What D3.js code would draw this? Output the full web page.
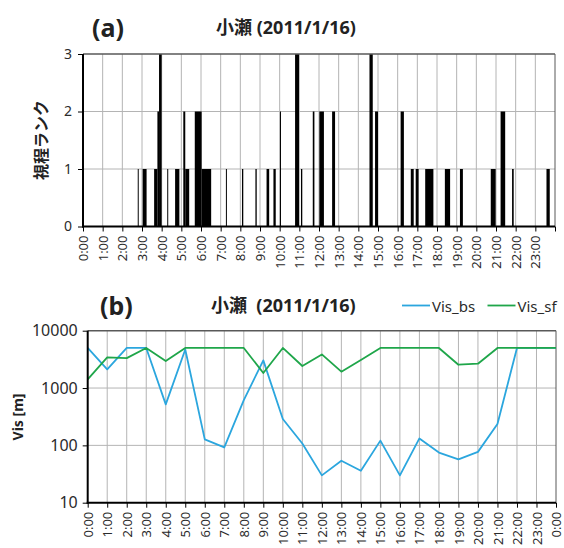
<!DOCTYPE html>
<html>
<head>
<meta charset="utf-8">
<script src="https://cdn.jsdelivr.net/npm/d3@7"></script>
<style>
    body { margin: 0; background: #fff; }
    text { font-family: "Noto Sans", "Noto Sans CJK JP", sans-serif; }
</style>
</head>
<body>
<svg id="chart" width="564" height="548"></svg>
<script>
'use strict';

// (a) visibility rank episodes: start, end, rank
var rankStart = ['2:47', '3:02', '3:37', '3:47', '3:52', '4:17', '4:41', '5:06', '5:12', '5:41',
                 '6:02', '7:16', '8:05', '8:46', '9:20', '9:41', '10:01', '10:47', '11:05', '11:41',
                 '12:01', '12:40', '14:34', '14:51', '16:09', '16:40', '16:55', '17:24', '18:24', '19:10',
                 '20:44', '21:14', '21:49', '23:34'];
var rankEnd   = ['2:50', '3:14', '3:47', '3:52', '4:00', '4:20', '4:54', '5:12', '5:24', '6:02',
                 '6:31', '7:19', '8:09', '8:50', '9:28', '9:48', '10:04', '10:59', '11:09', '11:46',
                 '12:15', '12:49', '14:44', '15:00', '16:19', '16:49', '17:04', '17:49', '18:40', '19:19',
                 '20:59', '21:28', '21:54', '23:44'];
var rankValue = [1, 1, 1, 2, 3, 1, 1, 2, 1, 2,
                 1, 1, 1, 1, 1, 1, 2, 3, 1, 2,
                 2, 2, 3, 2, 2, 1, 1, 1, 1, 1,
                 1, 2, 1, 1];
var rankTicks = [0, 1, 2, 3];

// (b) hourly visibility [m]
var visBs = [5000, 2120, 5000, 5000, 519, 4700, 127, 92, 617, 3040, 288, 108, 30,
             54, 36, 121, 30, 132, 75, 57, 77, 236, 5000, 5000, 5000];
var visSf = [1416, 3430, 3330, 5000, 2960, 5000, 5000, 5000, 5000, 1828, 5000, 2420, 3860,
             1927, 3077, 5000, 5000, 5000, 5000, 2550, 2655, 5000, 5000, 5000, 5000];
var visTicks = [10, 100, 1000, 10000];

var hourLabels = ['0:00', '1:00', '2:00', '3:00', '4:00', '5:00', '6:00', '7:00', '8:00', '9:00',
                  '10:00', '11:00', '12:00', '13:00', '14:00', '15:00', '16:00', '17:00', '18:00',
                  '19:00', '20:00', '21:00', '22:00', '23:00'];
var hourLabelsB = hourLabels.concat(['0:00']);

var svg = d3.select('#chart');
var gridColor = '#b4b4b4';
var borderColor = '#595959';

function toMinutes(s) {
    var p = s.split(':');
    return +p[0] * 60 + +p[1];
}

function rotateLabels(g) {
    g.selectAll('.tick text')
        .attr('transform', 'rotate(-90)')
        .attr('x', -9)
        .attr('y', 0)
        .attr('dy', '0.35em')
        .style('text-anchor', 'end');
}

// ---------- panel (a) ----------
var xA = d3.scaleLinear().domain([0, 1440]).range([83, 555]);
var yA = d3.scaleLinear().domain([0, 3]).range([226.5, 54]);

var gA = svg.append('g');

gA.selectAll('.vgrid')
    .data(d3.range(60, 1440, 60))
    .enter().append('line')
    .attr('x1', d => xA(d)).attr('x2', d => xA(d))
    .attr('y1', yA(3)).attr('y2', yA(0))
    .attr('stroke', gridColor).attr('stroke-width', 1);

gA.selectAll('.hgrid')
    .data([1, 2])
    .enter().append('line')
    .attr('x1', xA(0)).attr('x2', xA(1440))
    .attr('y1', d => yA(d)).attr('y2', d => yA(d))
    .attr('stroke', gridColor).attr('stroke-width', 1);

gA.selectAll('.bar')
    .data(rankValue)
    .enter().append('rect')
    .attr('x', (d, i) => xA(toMinutes(rankStart[i])))
    .attr('width', (d, i) => xA(toMinutes(rankEnd[i])) - xA(toMinutes(rankStart[i])))
    .attr('y', d => yA(d))
    .attr('height', d => yA(0) - yA(d))
    .attr('fill', '#000');

// frame
gA.append('line').attr('x1', xA(0)).attr('x2', xA(1440)).attr('y1', yA(3)).attr('y2', yA(3))
    .attr('stroke', borderColor).attr('stroke-width', 1.5);
gA.append('line').attr('x1', xA(1440)).attr('x2', xA(1440)).attr('y1', yA(3)).attr('y2', yA(0))
    .attr('stroke', borderColor).attr('stroke-width', 1);

var axA = gA.append('g')
    .attr('transform', 'translate(0,' + yA(0) + ')')
    .call(d3.axisBottom(xA)
        .tickValues(d3.range(0, 1441, 60))
        .tickSize(5)
        .tickFormat((d, i) => hourLabels[i] || ''));
axA.select('.domain').remove();
axA.selectAll('.tick line').attr('stroke', '#000');
axA.selectAll('.tick text').attr('font-size', 13).attr('fill', '#2b2b2b');
rotateLabels(axA);

var ayA = gA.append('g')
    .attr('transform', 'translate(' + xA(0) + ',0)')
    .call(d3.axisLeft(yA).tickValues(rankTicks).tickSize(5).tickPadding(6).tickFormat(d3.format('d')));
ayA.select('.domain').remove();
ayA.selectAll('.tick line').attr('stroke', '#000');
ayA.selectAll('.tick text').attr('font-size', 14).attr('fill', '#2b2b2b');

gA.append('line').attr('x1', xA(0)).attr('x2', xA(0)).attr('y1', yA(3)).attr('y2', yA(0) + 1)
    .attr('stroke', '#000').attr('stroke-width', 2);
gA.append('line').attr('x1', xA(0) - 1).attr('x2', xA(1440)).attr('y1', yA(0)).attr('y2', yA(0))
    .attr('stroke', '#000').attr('stroke-width', 2);

gA.append('text')
    .attr('x', 92).attr('y', 27)
    .attr('dominant-baseline', 'central')
    .attr('font-size', 25).attr('font-weight', 'bold').attr('fill', '#222')
    .text('(a)');
gA.append('text')
    .attr('x', 286).attr('y', 27)
    .attr('dominant-baseline', 'central')
    .attr('text-anchor', 'middle')
    .attr('font-size', 18).attr('font-weight', 'bold').attr('fill', '#222')
    .text('小瀬 (2011/1/16)');
gA.append('text')
    .attr('transform', 'translate(41,140) rotate(-90)')
    .attr('dominant-baseline', 'central')
    .attr('text-anchor', 'middle')
    .attr('font-size', 16).attr('font-weight', 'bold').attr('fill', '#222')
    .text('視程ランク');

// ---------- panel (b) ----------
var xB = d3.scaleLinear().domain([0, 24]).range([87.7, 556]);
var yB = d3.scaleLog().domain([10, 10000]).range([502.7, 330.7]);

var gB = svg.append('g');

gB.selectAll('.vgrid')
    .data(d3.range(1, 24))
    .enter().append('line')
    .attr('x1', d => xB(d)).attr('x2', d => xB(d))
    .attr('y1', yB(10000)).attr('y2', yB(10))
    .attr('stroke', gridColor).attr('stroke-width', 1);

gB.selectAll('.hgrid')
    .data([100, 1000])
    .enter().append('line')
    .attr('x1', xB(0)).attr('x2', xB(24))
    .attr('y1', d => yB(d)).attr('y2', d => yB(d))
    .attr('stroke', gridColor).attr('stroke-width', 1);

gB.append('line').attr('x1', xB(0)).attr('x2', xB(24)).attr('y1', yB(10000)).attr('y2', yB(10000))
    .attr('stroke', borderColor).attr('stroke-width', 1.5);
gB.append('line').attr('x1', xB(24)).attr('x2', xB(24)).attr('y1', yB(10000)).attr('y2', yB(10))
    .attr('stroke', borderColor).attr('stroke-width', 1);

var line = d3.line()
    .x((d, i) => xB(i))
    .y(d => yB(d));

var seriesB = [
    { name: 'Vis_bs', values: visBs, color: '#2ba6de' },
    { name: 'Vis_sf', values: visSf, color: '#1fa64a' }
];

gB.selectAll('.series')
    .data(seriesB)
    .enter().append('path')
    .attr('d', d => line(d.values))
    .attr('fill', 'none')
    .attr('stroke', d => d.color)
    .attr('stroke-width', 1.8)
    .attr('stroke-linejoin', 'round');

var axB = gB.append('g')
    .attr('transform', 'translate(0,' + yB(10) + ')')
    .call(d3.axisBottom(xB)
        .tickValues(d3.range(0, 25))
        .tickSize(5)
        .tickFormat((d, i) => hourLabelsB[i]));
axB.select('.domain').remove();
axB.selectAll('.tick line').attr('stroke', '#000');
axB.selectAll('.tick text').attr('font-size', 13).attr('fill', '#2b2b2b');
rotateLabels(axB);

var ayB = gB.append('g')
    .attr('transform', 'translate(' + xB(0) + ',0)')
    .call(d3.axisLeft(yB).tickValues(visTicks).tickSize(5).tickPadding(5).tickFormat(d3.format('d')));
ayB.select('.domain').remove();
ayB.selectAll('.tick line').attr('stroke', '#000');
ayB.selectAll('.tick text').attr('font-size', 16).attr('fill', '#2b2b2b');

gB.append('line').attr('x1', xB(0)).attr('x2', xB(0)).attr('y1', yB(10000)).attr('y2', yB(10) + 1)
    .attr('stroke', '#000').attr('stroke-width', 2);
gB.append('line').attr('x1', xB(0) - 1).attr('x2', xB(24)).attr('y1', yB(10)).attr('y2', yB(10))
    .attr('stroke', '#000').attr('stroke-width', 2);

gB.append('text')
    .attr('x', 100).attr('y', 305)
    .attr('dominant-baseline', 'central')
    .attr('font-size', 25).attr('font-weight', 'bold').attr('fill', '#222')
    .text('(b)');
gB.append('text')
    .attr('x', 211).attr('y', 305)
    .attr('dominant-baseline', 'central')
    .attr('font-size', 18).attr('font-weight', 'bold').attr('fill', '#222')
    .attr('xml:space', 'preserve')
    .style('white-space', 'pre')
    .text('小瀬  (2011/1/16)');
gB.append('text')
    .attr('transform', 'translate(17,417) rotate(-90)')
    .attr('dominant-baseline', 'central')
    .attr('text-anchor', 'middle')
    .attr('font-size', 14).attr('font-weight', 'bold').attr('fill', '#222')
    .text('Vis [m]');

// legend
var legend = gB.selectAll('.legend')
    .data(seriesB)
    .enter().append('g')
    .attr('transform', (d, i) => 'translate(' + (402 + i * 85.5) + ',305.5)');
legend.append('line')
    .attr('x1', 0).attr('x2', 28)
    .attr('stroke', d => d.color).attr('stroke-width', 1.8);
legend.append('text')
    .attr('x', 30)
    .attr('dominant-baseline', 'central')
    .attr('font-size', 15).attr('fill', '#2b2b2b')
    .text(d => d.name);
</script>
</body>
</html>
